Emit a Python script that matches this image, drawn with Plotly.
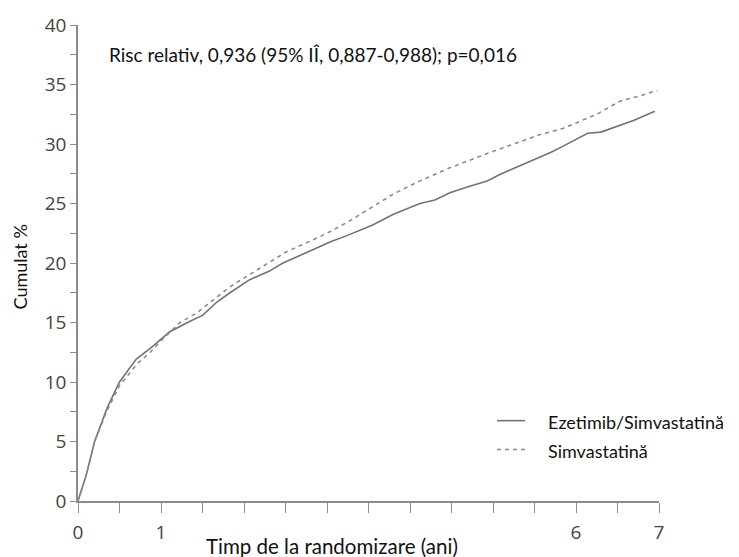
import plotly.graph_objects as go

# Ezetimib/Simvastatină (solid)
t_ezet = [0, 0.05, 0.1, 0.2, 0.35, 0.5, 0.7, 0.9, 1.1, 1.35, 1.5, 1.67, 1.83, 2.07, 2.3, 2.47,
          2.7, 2.88, 3.05, 3.24, 3.55, 3.8, 4.12, 4.3, 4.48, 4.7, 4.93, 5.1, 5.3, 5.5, 5.7,
          5.84, 6.0, 6.14, 6.3, 6.45, 6.7, 6.95]
v_ezet = [0, 1.2, 2.2, 5.0, 7.8, 10.0, 11.9, 13.0, 14.2, 15.1, 15.6, 16.7, 17.5, 18.6, 19.3, 20.0,
          20.7, 21.3, 21.8, 22.3, 23.2, 24.1, 25.0, 25.3, 25.9, 26.4, 26.9, 27.5, 28.1, 28.7, 29.3,
          29.8, 30.4, 30.9, 31.0, 31.4, 32.0, 32.75]

# Simvastatină (dashed)
t_simv = [0, 0.05, 0.1, 0.2, 0.35, 0.5, 0.71, 0.87, 1.02, 1.23, 1.43, 1.63, 1.83, 2.2, 2.5,
          2.88, 3.0, 3.24, 3.55, 3.8, 4.12, 4.48, 4.93, 5.24, 5.45, 5.57, 5.84, 6.05, 6.25,
          6.53, 6.75, 6.98]
v_simv = [0, 1.1, 2.2, 5.0, 7.6, 9.7, 11.5, 12.5, 13.6, 15.0, 15.8, 16.9, 18.0, 19.6, 20.9,
          22.1, 22.5, 23.4, 24.7, 25.8, 26.9, 28.0, 29.2, 30.0, 30.5, 30.8, 31.3, 31.9, 32.5,
          33.6, 34.0, 34.5]

x_tickvals = [0, 0.5, 1, 1.5, 2, 2.5, 3, 3.5, 4, 4.5, 5, 5.5, 6, 6.5, 7]
x_ticktext = ["0", "", "1", "", "", "", "", "", "", "", "", "", "6", "", "7"]
y_tickvals = [0, 2.5, 5, 7.5, 10, 12.5, 15, 17.5, 20, 22.5, 25, 27.5, 30, 32.5, 35, 37.5, 40]
y_ticktext = ["0", "", "5", "", "10", "", "15", "", "20", "", "25", "", "30", "", "35", "", "40"]

title_text = "Risc relativ, 0,936 (95% IÎ, 0,887-0,988); p=0,016"
x_title = "Timp de la randomizare (ani)"
y_title = "Cumulat %"
names = ["Ezetimib/Simvastatină", "Simvastatină"]

TXT = "Lato, 'Open Sans', sans-serif"
TICK = "'Open Sans', 'Noto Sans', sans-serif"
SOLID_C = "#737373"
DASH_C = "#8a8a8a"
DASH = "4px,4px"

fig = go.Figure()
fig.add_trace(go.Scatter(x=t_ezet, y=v_ezet, mode="lines", name=names[0], showlegend=False,
                         line=dict(color=SOLID_C, width=1.6)))
fig.add_trace(go.Scatter(x=t_simv, y=v_simv, mode="lines", name=names[1], showlegend=False,
                         line=dict(color=DASH_C, width=1.6, dash=DASH)))

# legend drawn as key lines + labels (avoids the legend pushing the plot margins)
leg_y = [0.1688, 0.1083]
for i, nm in enumerate(names):
    fig.add_shape(type="line", xref="paper", yref="paper", x0=0.7212, x1=0.7694,
                  y0=leg_y[i], y1=leg_y[i],
                  line=dict(color=SOLID_C if i == 0 else DASH_C, width=1.6,
                            dash="solid" if i == 0 else DASH))
    fig.add_annotation(text=nm, xref="paper", yref="paper", x=0.8055, y=leg_y[i] - 0.003,
                       xanchor="left", yanchor="middle", showarrow=False,
                       font=dict(family=TXT, size=18, color="#111"))

fig.update_layout(
    width=739, height=557,
    margin=dict(l=78, r=80, t=23, b=54),
    paper_bgcolor="white", plot_bgcolor="white",
    showlegend=False,
)
fig.add_annotation(text=title_text, xref="paper", yref="paper", x=0.0499, y=0.9375,
                   xanchor="left", yanchor="middle", showarrow=False,
                   font=dict(family=TXT, size=19, color="#111"))
fig.add_annotation(text=x_title, xref="paper", yref="paper", x=0.4377, y=-0.095,
                   xanchor="center", yanchor="middle", showarrow=False,
                   font=dict(family=TXT, size=20.5, color="#111"))
fig.add_annotation(text=y_title, xref="paper", yref="paper", x=-0.0998, y=0.4906,
                   xanchor="center", yanchor="middle", showarrow=False, textangle=-90,
                   font=dict(family=TXT, size=18, color="#111"))

fig.update_xaxes(range=[0, 7], tickmode="array", tickvals=x_tickvals, ticktext=x_ticktext,
                 showline=True, linecolor="#8c8c8c", linewidth=1.5, ticks="outside",
                 ticklen=10, tickcolor="#8c8c8c", tickwidth=1.3, showgrid=False, zeroline=False,
                 ticklabelstandoff=3,
                 tickfont=dict(family=TICK, size=19, color="#444"))
fig.update_yaxes(range=[0, 40], tickmode="array", tickvals=y_tickvals, ticktext=y_ticktext,
                 showline=True, linecolor="#8c8c8c", linewidth=1.5, ticks="outside",
                 ticklen=6, tickcolor="#8c8c8c", tickwidth=1.3, showgrid=False, zeroline=False,
                 tickfont=dict(family=TICK, size=19, color="#444"))

# remove the default 8px page margin so the 739x557 figure fills the window exactly
fig.write_html("out.html", config={"displayModeBar": False},
               post_script="document.body.style.margin='0';document.body.style.overflow='hidden';")
